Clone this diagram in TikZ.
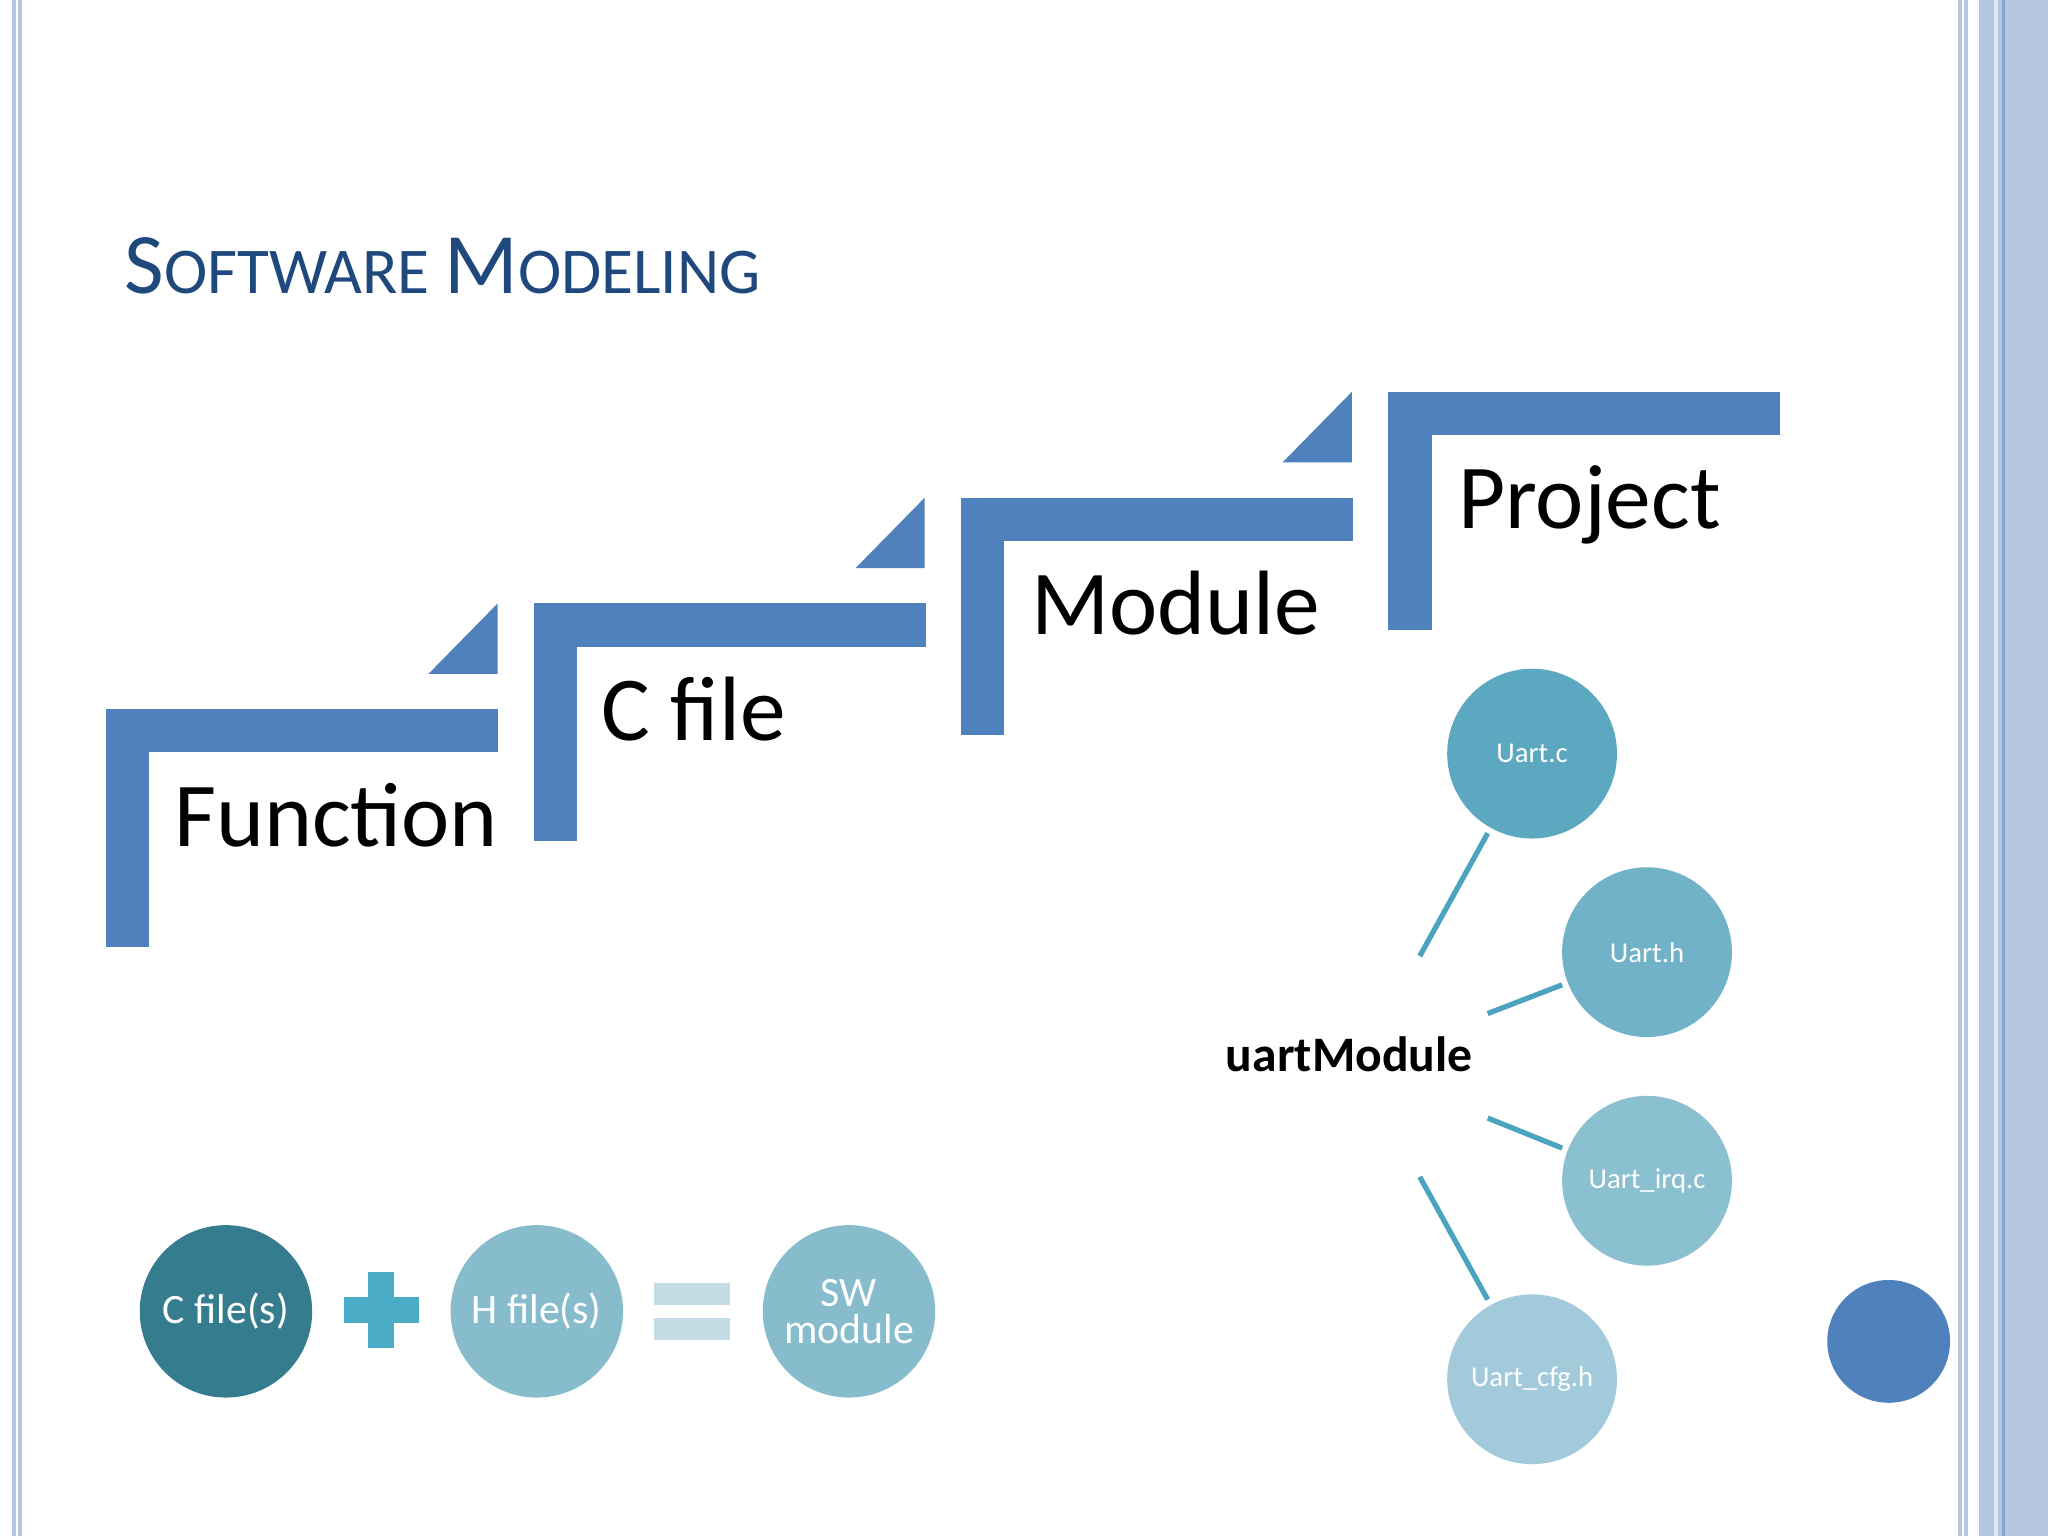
\documentclass[tikz,border=0pt]{standalone}
\usepackage{fontspec}
\setmainfont{Carlito}
\begin{document}
\begin{tikzpicture}[x=0.5pt,y=-0.5pt,
  stepbar/.style={fill=stepblue,draw=none},
  bigtext/.style={font=\fontsize{35}{40}\selectfont,anchor=base west},
  fc/.style={circle,minimum size=65pt,inner sep=0pt,text=white,font=\fontsize{16}{18}\selectfont,align=center},
  uc/.style={circle,minimum size=65pt,inner sep=0pt,text=white,font=\fontsize{11}{13}\selectfont},
  ln/.style={draw=linec,line width=2pt}]
\definecolor{stepblue}{HTML}{4F81BD}
\definecolor{titlec}{HTML}{1F497D}
\definecolor{linec}{HTML}{4BA3BF}
\definecolor{bord}{HTML}{B4C6E0}
\definecolor{cA}{HTML}{5BA8C0}
\definecolor{cB}{HTML}{72B2C8}
\definecolor{cC}{HTML}{8BC0D0}
\definecolor{cD}{HTML}{A3CADB}
\definecolor{cE}{HTML}{357C8F}
\definecolor{cF}{HTML}{86BCCC}
\definecolor{cG}{HTML}{C3DCE5}
\definecolor{cH}{HTML}{4BACC6}
\useasboundingbox (0,0) rectangle (1568,1176);
\fill[white] (0,0) rectangle (1568,1176);
% borders
\fill[bord] (9,0) rectangle (12,1176);
\fill[bord] (14,0) rectangle (17,1176);
\fill[bord] (1499,0) rectangle (1502,1176);
\fill[bord] (1504,0) rectangle (1507,1176);
\fill[bord] (1515,0) rectangle (1568,1176);
\fill[white!60!bord] (1527,0) rectangle (1530,1176);
\fill[stepblue!70] (1533,0) rectangle (1535,1176);
% title
\node[anchor=base west,text=titlec,inner sep=0pt] (title) at (95,225)
  {\fontsize{33}{36}\selectfont S\fontsize{25}{30}\selectfont OFTWARE \fontsize{33}{36}\selectfont M\fontsize{25}{30}\selectfont ODELING};
% steps
\foreach \x/\y in {81/543,409/462,736/381,1063/300}{
  \fill[stepbar] (\x,\y) rectangle (\x+300,\y+33);
  \fill[stepbar] (\x,\y) rectangle (\x+33,\y+182);
}
\foreach \x/\y in {328/516,655/435,982/354}{
  \fill[stepbar] (\x,\y) -- (\x+53,\y) -- (\x+53,\y-54) -- cycle;
}
\node[bigtext,inner sep=0pt] (f) at (133,648) {Function};
\node[bigtext,inner sep=0pt] (c) at (460,567) {C file};
\node[bigtext,inner sep=0pt] (m) at (789,486) {Module};
\node[bigtext,inner sep=0pt] (p) at (1116,405) {Project};
% uart tree
\node[uc,fill=cA] (u1) at (1173,577) {Uart.c};
\node[uc,fill=cB] (u2) at (1261,729) {Uart.h};
\node[uc,fill=cC] (u3) at (1261,904) {Uart\_irq.c};
\node[uc,fill=cD] (u4) at (1173,1056) {Uart\_cfg.h};
\node[font=\bfseries\fontsize{19}{22}\selectfont] (um) at (1033,807) {uartModule};
\coordinate (a1) at (1087,732); \coordinate (b1) at (1139,638);
\coordinate (a2) at (1139,776); \coordinate (b2) at (1196,754);
\coordinate (a3) at (1139,856); \coordinate (b3) at (1196,879);
\coordinate (a4) at (1087,901); \coordinate (b4) at (1139,995);
\draw[ln] (a1)--(b1); \draw[ln] (a2)--(b2); \draw[ln] (a3)--(b3); \draw[ln] (a4)--(b4);
% equation
\node[fc,minimum size=66pt,fill=cE] (cf) at (173,1004) {C file(s)};
\fill[cH] (282,974) rectangle (302,1032);
\fill[cH] (263,993) rectangle (321,1013);
\node[fc,minimum size=66pt,fill=cF] (hf) at (411,1004) {H file(s)};
\fill[cG] (501,982) rectangle (559,999);
\fill[cG] (501,1009) rectangle (559,1026);
\node[fc,minimum size=66pt,fill=cF] (sw) at (650,1004) {SW\\[-4pt]module};
\node[circle,minimum size=47pt,inner sep=0pt,fill=stepblue] (dot) at (1446,1027) {};
\end{tikzpicture}
\end{document}
